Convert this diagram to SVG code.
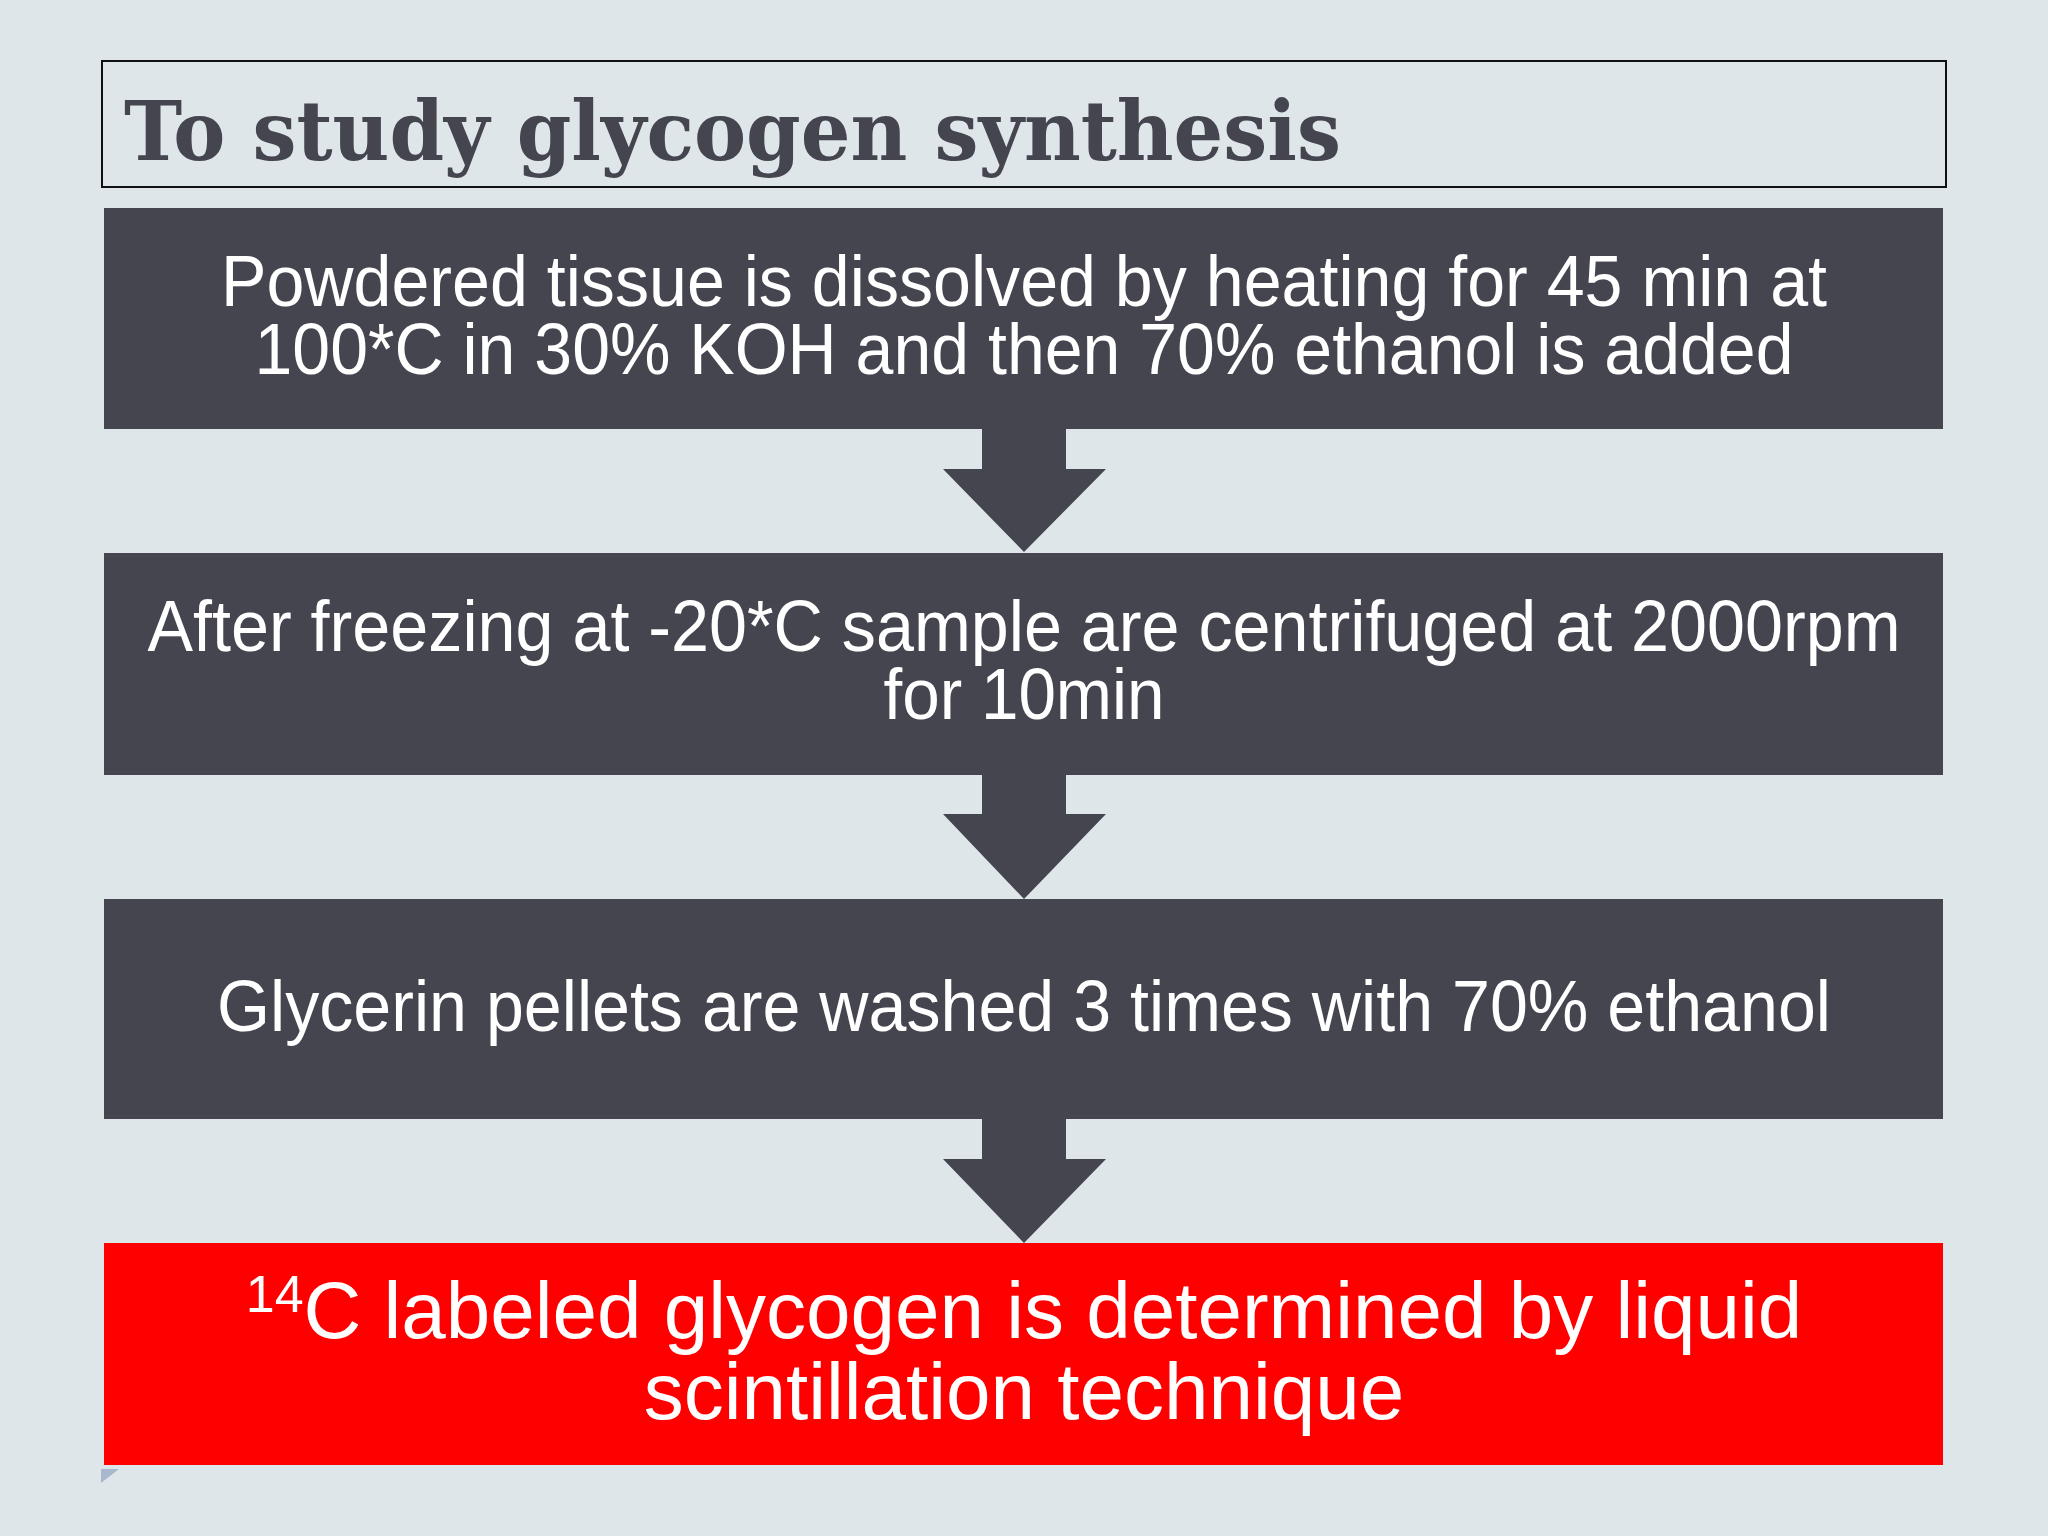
<svg xmlns="http://www.w3.org/2000/svg" width="2048" height="1536" viewBox="0 0 2048 1536">
<style>
.box{fill:#454550}
.red{fill:#ff0000}
.t{font-family:"Liberation Sans",Arial,sans-serif;font-size:72px;fill:#ffffff;text-anchor:middle}
.t2{font-family:"Liberation Sans",Arial,sans-serif;font-size:80px;fill:#ffffff;text-anchor:middle}
.arrow{fill:#454550}
</style>
<rect x="0" y="0" width="2048" height="1536" fill="#dfe6ea"/>
<g id="title">
<rect x="102" y="61" width="1844" height="126" fill="#dfe6ea" stroke="#111111" stroke-width="2"/>
<text x="124" y="160" font-family="'DejaVu Serif',serif" font-weight="bold" font-size="82" fill="#454550" textLength="1217" lengthAdjust="spacingAndGlyphs">To study glycogen synthesis</text>
</g>
<g id="connectors">
<polygon class="arrow" points="982,429 1066,429 1066,469 1106,469 1024,552 943,469 982,469"/>
<polygon class="arrow" points="982,775 1066,775 1066,814 1106,814 1024,899 943,814 982,814"/>
<polygon class="arrow" points="982,1119 1066,1119 1066,1159 1106,1159 1024,1243 943,1159 982,1159"/>
</g>
<g id="step1">
<rect class="box" x="104" y="208" width="1839" height="221"/>
<text class="t" x="1024" y="306" textLength="1606" lengthAdjust="spacingAndGlyphs">Powdered tissue is dissolved by heating for 45 min at</text>
<text class="t" x="1024" y="374" textLength="1539" lengthAdjust="spacingAndGlyphs">100*C in 30% KOH and then 70% ethanol is added</text>
</g>
<g id="step2">
<rect class="box" x="104" y="553" width="1839" height="222"/>
<text class="t" x="1024" y="651" textLength="1753" lengthAdjust="spacingAndGlyphs">After freezing at -20*C sample are centrifuged at 2000rpm</text>
<text class="t" x="1024" y="719" textLength="281" lengthAdjust="spacingAndGlyphs">for 10min</text>
</g>
<g id="step3">
<rect class="box" x="104" y="899" width="1839" height="220"/>
<text class="t" x="1024" y="1031" textLength="1614" lengthAdjust="spacingAndGlyphs">Glycerin pellets are washed 3 times with 70% ethanol</text>
</g>
<g id="step4">
<rect class="red" x="104" y="1243" width="1839" height="222"/>
<text class="t2" x="1024" y="1338"><tspan font-size="52" dy="-26">14</tspan><tspan dy="26">C labeled glycogen is determined by liquid</tspan></text>
<text class="t2" x="1024" y="1419">scintillation technique</text>
</g>
<polygon points="101,1469 119,1469 101,1483" fill="#a9b8cf"/>
</svg>
